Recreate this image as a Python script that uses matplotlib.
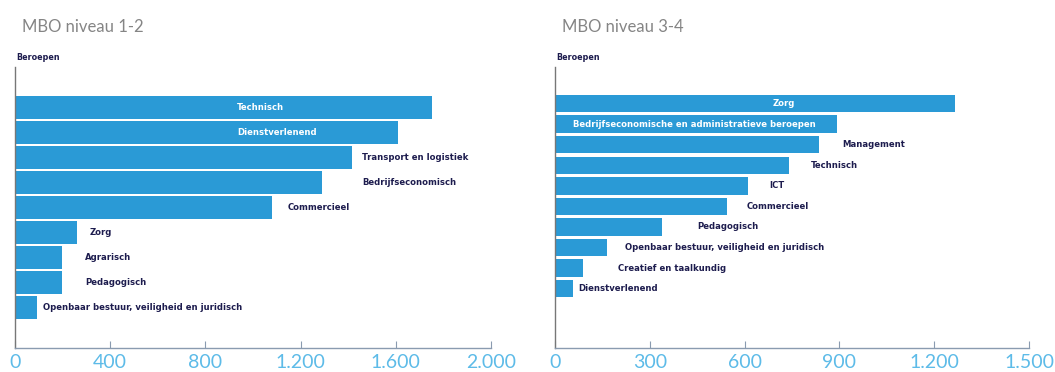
import matplotlib.pyplot as plt
from matplotlib.ticker import FuncFormatter

# MBO niveau 1-2
beroepen_12 = ['Technisch', 'Dienstverlenend', 'Transport en logistiek', 'Bedrijfseconomisch',
               'Commercieel', 'Zorg', 'Agrarisch', 'Pedagogisch',
               'Openbaar bestuur, veiligheid en juridisch']
waarden_12 = [1752, 1609, 1416, 1290, 1080, 260, 197, 197, 92]
label_x_12 = [933, 933, 1458, 1458, 1147, 315, 294, 294, 118]
binnen_12 = [True, True, False, False, False, False, False, False, False]
ticks_12 = [0, 400, 800, 1200, 1600, 2000]

# MBO niveau 3-4
beroepen_34 = ['Zorg', 'Bedrijfseconomische en administratieve beroepen', 'Management',
               'Technisch', 'ICT', 'Commercieel', 'Pedagogisch',
               'Openbaar bestuur, veiligheid en juridisch', 'Creatief en taalkundig',
               'Dienstverlenend']
waarden_34 = [1267, 891, 837, 739, 610, 543, 338, 164, 88, 57]
label_x_34 = [689, 57, 910, 809, 679, 607, 449, 221, 199, 73]
binnen_34 = [True, True, False, False, False, False, False, False, False, False]
ticks_34 = [0, 300, 600, 900, 1200, 1500]

blauw = '#2a9ad6'
navy = '#1d1c4e'
W, H = 1055, 372

fig = plt.figure(figsize=(W / 100, H / 100), dpi=100)


def punt(v, pos):
    return f'{int(v):,}'.replace(',', '.')


def paneel(x0, x1, namen, waarden, lx, binnen, ticks, ylim, hoogte, titel):
    ax = fig.add_axes([x0 / W, 1 - 348 / H, (x1 - x0) / W, (348 - 67) / H])
    pos = list(range(len(namen)))
    ax.barh(pos, waarden, height=hoogte, color=blauw, linewidth=0)
    for p, naam, x, b in zip(pos, namen, lx, binnen):
        ax.text(x, p, naam, va='center', ha='left', fontsize=6.1, fontweight='bold',
                color='white' if b else navy)
    ax.set_xlim(ticks[0], ticks[-1])
    ax.set_ylim(*ylim)
    ax.set_xticks(ticks)
    ax.xaxis.set_major_formatter(FuncFormatter(punt))
    ax.tick_params(axis='x', direction='in', length=5, width=0.8, color='#8a9bb0',
                   pad=4, labelsize=14, labelcolor='#5dbbe8')
    for lab in ax.get_xticklabels():
        lab.set_family('Lato')
    ax.set_yticks([])
    for s in ['top', 'right']:
        ax.spines[s].set_visible(False)
    ax.spines['bottom'].set_color('#8a9bb0')
    ax.spines['left'].set_color('#777777')
    ax.spines['bottom'].set_linewidth(1.0)
    ax.spines['left'].set_linewidth(1.0)
    fig.text((x0 + 7) / W, 1 - 27 / H, titel, fontsize=12, color='#858585',
             family='Lato', va='center', ha='left')
    fig.text((x0 + 1) / W, 1 - 58 / H, 'Beroepen', fontsize=5.8, color=navy,
             fontweight='bold', va='center', ha='left')
    return ax


paneel(15, 491, beroepen_12, waarden_12, label_x_12, binnen_12, ticks_12,
       (9.62, -1.62), 0.955, 'MBO niveau 1-2')
paneel(555, 1029, beroepen_34, waarden_34, label_x_34, binnen_34, ticks_34,
       (11.89, -1.78), 0.85, 'MBO niveau 3-4')

fig.savefig('out.png', dpi=100)
